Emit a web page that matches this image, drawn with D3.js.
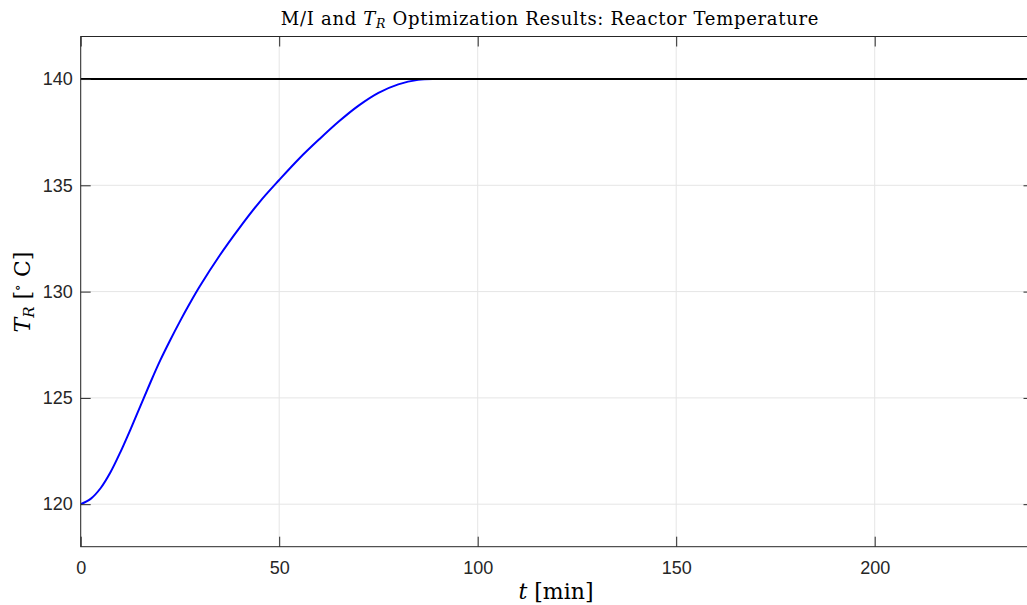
<!DOCTYPE html>
<html>
<head>
<meta charset="utf-8">
<script src="https://cdn.jsdelivr.net/npm/d3@7"></script>
<style>
  html, body { margin: 0; padding: 0; background: #fff; }
  svg { display: block; }
</style>
</head>
<body>
<svg id="chart" width="1027" height="605"></svg>
<script>
// ---- data ----
const timeMin = [0, 2.5, 5, 7.5, 10, 12.5, 15, 17.5, 20, 22.5, 25, 27.5, 30, 35, 40, 45, 50, 55, 60, 65, 70, 75, 80, 85, 90, 100, 120, 140, 160, 180, 200, 220, 240];
const reactorTemp = [120, 120.25, 120.75, 121.5, 122.45, 123.5, 124.6, 125.7, 126.75, 127.7, 128.6, 129.45, 130.25, 131.7, 133.0, 134.2, 135.25, 136.25, 137.15, 138.0, 138.75, 139.35, 139.75, 139.96, 140, 140, 140, 140, 140, 140, 140, 140, 140];
const setpointTime = [0, 240];
const setpointTemp = [140, 140];
const xTicks = [0, 50, 100, 150, 200];
const yTicks = [120, 125, 130, 135, 140];

(function () {
const svg = d3.select("#chart");
const mL = 80.7, mR = 1033.5, mT = 36.5, mB = 546.7;

const x = d3.scaleLinear().domain([0, 240]).range([mL, mR]);
const y = d3.scaleLinear().domain([118, 142]).range([mB, mT]);

const axisColor = "#262626";
const gridColor = "#e5e5e5";
const tickLen = 10;

// grid
const grid = svg.append("g");
grid.selectAll(".gx").data(xTicks).join("line")
  .attr("x1", d => x(d)).attr("x2", d => x(d))
  .attr("y1", mT).attr("y2", mB)
  .attr("stroke", gridColor).attr("stroke-width", 1);
grid.selectAll(".gy").data(yTicks).join("line")
  .attr("x1", mL).attr("x2", mR)
  .attr("y1", d => y(d)).attr("y2", d => y(d))
  .attr("stroke", gridColor).attr("stroke-width", 1);

// clip
svg.append("clipPath").attr("id", "clip").append("rect")
  .attr("x", mL).attr("y", mT).attr("width", mR - mL).attr("height", mB - mT);

const data = timeMin.map((t, i) => [t, reactorTemp[i]]);
const line = d3.line().x(d => x(d[0])).y(d => y(d[1])).curve(d3.curveCatmullRom.alpha(0.5));

svg.append("path").datum(data)
  .attr("d", line)
  .attr("fill", "none").attr("stroke", "#0000ff").attr("stroke-width", 2)
  .attr("clip-path", "url(#clip)");

const sp = setpointTime.map((t, i) => [t, setpointTemp[i]]);
svg.append("path").datum(sp)
  .attr("d", d3.line().x(d => x(d[0])).y(d => y(d[1])))
  .attr("fill", "none").attr("stroke", "#000").attr("stroke-width", 2.2)
  .attr("clip-path", "url(#clip)");

// axes (MATLAB style, ticks inward)
const xAxisB = d3.axisBottom(x).tickValues(xTicks).tickSize(-tickLen).tickPadding(14.5).tickFormat(d3.format("d"));
const xAxisT = d3.axisTop(x).tickValues(xTicks).tickSize(-tickLen).tickFormat("");
const yAxisL = d3.axisLeft(y).tickValues(yTicks).tickSize(-tickLen).tickPadding(8).tickFormat(d3.format("d"));
const yAxisR = d3.axisRight(y).tickValues(yTicks).tickSize(-tickLen).tickFormat("");

function style(g) {
  g.select(".domain").remove();
  g.selectAll(".tick line").attr("stroke", axisColor).attr("stroke-width", 1);
  g.selectAll(".tick text").attr("fill", axisColor)
    .style("font-family", "'Liberation Sans', Arial, Helvetica, sans-serif").style("font-size", "18px");
}
svg.append("g").attr("transform", `translate(0,${mB})`).call(xAxisB).call(style);
svg.append("g").attr("transform", `translate(0,${mT})`).call(xAxisT).call(style);
svg.append("g").attr("transform", `translate(${mL},0)`).call(yAxisL).call(style);
svg.append("g").attr("transform", `translate(${mR},0)`).call(yAxisR).call(style);

// box
svg.append("rect").attr("x", mL).attr("y", mT).attr("width", mR - mL).attr("height", mB - mT)
  .attr("fill", "none").attr("stroke", axisColor).attr("stroke-width", 1);

const serif = "'DejaVu Serif', 'Liberation Serif', serif";

// title
const title = svg.append("text").attr("x", 550).attr("y", 25).attr("text-anchor", "middle")
  .style("font-family", serif).style("font-size", "18px").style("letter-spacing", "0.7px").attr("fill", "#000");
title.append("tspan").text("M/I and ");
title.append("tspan").attr("font-style", "italic").text("T");
title.append("tspan").attr("font-style", "italic").attr("font-size", "12.5px").attr("dy", 3).text("R");
title.append("tspan").attr("dy", -3).text(" Optimization Results: Reactor Temperature");

// x label
const xl = svg.append("text").attr("x", 556).attr("y", 599).attr("text-anchor", "middle")
  .style("font-family", serif).style("font-size", "22px").attr("fill", "#000");
xl.append("tspan").attr("font-style", "italic").text("t");
xl.append("tspan").text(" [min]");

// y label
const yl = svg.append("text").attr("transform", `translate(30,292) rotate(-90)`).attr("text-anchor", "middle")
  .style("font-family", serif).style("font-size", "22px").attr("fill", "#000");
yl.append("tspan").attr("font-style", "italic").text("T");
yl.append("tspan").attr("font-style", "italic").attr("font-size", "15px").attr("dy", 4).text("R");
yl.append("tspan").attr("dy", -4).text(" [");
yl.append("tspan").attr("font-size", "14px").attr("dy", -8).text("∘");
yl.append("tspan").attr("dy", 8).text(" C]");
})();
</script>
</body>
</html>
